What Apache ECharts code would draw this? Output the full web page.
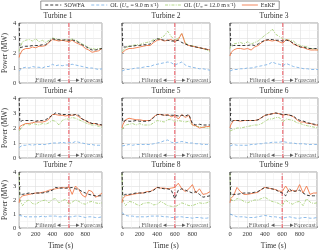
<!DOCTYPE html>
<html><head><meta charset="utf-8">
<script src="https://cdn.jsdelivr.net/npm/echarts@6/dist/echarts.min.js"></script>
<style>html,body{margin:0;padding:0;background:#fff}#c{width:320px;height:251px}</style>
</head><body><div id="c"></div>
<script>
const times = [0,8,40,80,120,160,200,240,280,320,360,400,440,480,520,560,600,640,680,720,760,800,840,880,920,960,1000];
const turbineNames = ['Turbine 1','Turbine 2','Turbine 3','Turbine 4','Turbine 5','Turbine 6','Turbine 7','Turbine 8','Turbine 9'];
const xTicks = [0,200,400,600,800];
const yTicks = [0,1,2,3,4];
const splitTime = 600;
const splitSpan = [0, 4];

const sowfa = [
 [4.0,2.35,2.4,2.45,2.45,2.5,2.5,2.5,2.55,2.55,2.75,2.95,2.9,2.88,2.85,2.88,2.85,2.88,2.8,2.7,2.55,2.45,2.3,2.2,2.2,2.25,2.3],
 [4.0,2.4,2.4,2.45,2.45,2.5,2.5,2.55,2.55,2.6,2.8,2.95,2.9,2.85,2.85,2.8,2.8,2.85,2.7,2.6,2.5,2.45,2.4,2.35,2.3,2.25,2.2],
 [4.0,2.45,2.5,2.5,2.5,2.5,2.5,2.55,2.5,2.6,2.75,2.85,2.9,2.9,2.85,2.85,2.8,2.85,2.8,2.65,2.5,2.4,2.4,2.3,2.3,2.3,2.3],
 [4.0,2.4,2.5,2.5,2.5,2.5,2.45,2.5,2.5,2.55,2.7,2.85,3.0,2.95,2.9,2.9,2.9,2.85,2.9,2.85,2.6,2.5,2.4,2.3,2.3,2.25,2.2],
 [4.0,2.4,2.5,2.45,2.45,2.5,2.45,2.45,2.45,2.5,2.7,2.9,2.9,2.85,2.85,2.85,2.85,2.8,2.85,2.8,2.9,2.3,2.2,2.25,2.2,2.2,2.2],
 [4.0,2.4,2.5,2.5,2.5,2.5,2.5,2.5,2.5,2.55,2.7,2.85,2.9,2.95,3.0,2.95,2.9,2.9,2.85,2.8,2.6,2.5,2.45,2.35,2.3,2.25,2.2],
 [4.0,2.35,2.4,2.45,2.5,2.45,2.5,2.5,2.5,2.55,2.6,2.7,2.9,2.85,2.85,2.85,2.85,2.9,2.8,2.75,2.6,2.5,2.4,2.35,2.3,2.3,2.3],
 [4.0,2.3,2.4,2.4,2.45,2.5,2.5,2.5,2.55,2.6,2.7,2.9,2.85,2.8,2.8,2.7,2.1,2.7,2.8,2.7,2.6,2.5,2.6,2.4,2.2,2.25,2.3],
 [4.0,2.35,2.4,2.4,2.45,2.5,2.5,2.5,2.55,2.6,2.75,2.9,2.85,2.8,2.75,2.6,2.5,2.3,2.8,2.6,2.65,2.7,2.5,2.35,2.3,2.3,2.3]
];
const ol9 = [
 [0.8,0.7,1.0,1.05,1.0,1.1,1.05,1.05,1.0,1.1,1.1,1.25,1.15,1.2,1.15,1.2,1.2,1.25,1.2,1.15,1.1,1.05,1.0,1.0,0.95,0.9,0.95],
 [0.8,0.75,0.9,0.9,0.95,1.0,1.0,1.05,1.1,1.1,1.2,1.25,1.3,1.35,1.4,1.35,1.2,1.3,1.4,1.2,1.1,1.05,1.0,0.95,0.95,0.9,0.85],
 [0.8,0.7,0.9,0.9,0.95,0.95,1.0,1.0,1.05,1.1,1.15,1.2,1.25,1.4,1.3,1.25,1.15,1.3,1.2,1.1,1.05,1.0,0.95,0.95,0.9,0.9,0.9],
 [0.7,0.8,0.85,0.85,0.9,0.85,0.9,0.9,0.9,0.9,0.95,1.0,1.0,1.0,1.05,1.0,1.05,1.0,1.1,1.05,1.0,0.95,0.9,0.9,0.85,0.85,0.85],
 [0.8,0.75,0.85,0.9,0.85,0.9,0.9,0.9,0.9,0.9,0.95,1.0,1.05,1.15,1.2,1.05,1.0,1.05,1.1,1.05,1.0,1.0,0.95,0.95,0.9,0.9,0.9],
 [0.8,0.75,0.9,0.85,0.85,0.85,0.85,0.9,0.9,0.95,0.95,1.0,1.0,1.05,1.05,1.05,1.1,1.05,1.0,1.0,0.95,0.95,0.95,0.9,0.9,0.9,0.9],
 [0.9,0.95,0.85,0.8,0.8,0.8,0.8,0.8,0.85,0.8,0.85,0.85,0.85,0.8,0.8,0.85,0.8,0.8,0.85,0.85,0.8,0.75,0.8,0.8,0.75,0.75,0.8],
 [1.1,1.05,0.9,0.85,0.85,0.8,0.8,0.8,0.8,0.85,0.85,0.85,0.85,0.8,0.8,0.75,0.75,0.8,0.8,0.75,0.75,0.7,0.75,0.75,0.7,0.7,0.75],
 [1.0,1.0,0.9,0.8,0.8,0.8,0.75,0.75,0.75,0.8,0.85,0.9,0.85,0.8,0.8,0.75,0.7,0.75,0.8,0.75,0.7,0.7,0.75,0.75,0.7,0.7,0.75]
];
const ol12 = [
 [2.1,2.3,2.75,2.85,2.9,2.8,2.95,2.75,2.85,2.7,2.85,3.0,2.95,2.9,2.85,2.9,2.8,2.95,2.85,2.75,2.6,2.5,2.35,2.3,2.25,2.3,2.3],
 [2.1,2.2,2.35,2.45,2.5,2.55,2.55,2.65,2.7,2.75,2.9,2.9,3.0,3.15,3.45,3.1,2.85,3.0,3.3,2.7,2.5,2.5,2.4,2.35,2.3,2.2,2.1],
 [2.3,2.45,2.6,2.65,2.7,2.6,2.75,2.6,2.7,2.8,3.0,3.2,3.35,3.6,3.25,3.1,2.95,2.9,2.85,2.8,2.6,2.5,2.45,2.4,2.3,2.25,2.2],
 [1.8,1.9,2.1,2.3,2.2,2.3,2.25,2.2,2.3,2.25,2.35,2.5,2.45,2.2,2.5,2.6,2.6,2.7,2.65,2.55,2.45,2.35,2.25,2.2,2.2,2.1,2.05],
 [1.9,2.0,2.2,2.25,2.3,2.2,2.3,2.2,2.2,2.2,2.35,2.5,2.45,2.4,2.55,2.6,2.4,2.5,2.45,2.4,2.45,2.2,2.1,2.1,2.05,2.0,2.0],
 [1.8,1.9,1.9,2.0,2.0,2.05,2.1,2.15,2.2,2.2,2.3,2.45,2.6,2.6,2.7,2.7,2.4,2.6,2.55,2.5,2.35,2.3,2.2,2.15,2.1,2.05,2.0],
 [3.9,2.0,1.6,1.9,2.0,1.75,1.7,1.85,1.95,2.0,1.8,2.05,2.1,1.8,1.95,2.05,1.7,1.85,2.0,1.9,1.75,1.7,1.85,1.9,1.8,1.75,1.8],
 [3.9,2.0,1.6,1.9,1.85,1.7,1.6,1.75,1.8,1.8,1.65,1.7,1.9,1.75,1.6,1.55,1.5,1.65,1.8,1.7,1.6,1.6,1.7,1.8,1.75,1.8,1.9],
 [3.9,2.1,1.9,2.1,2.05,1.9,1.8,1.9,2.0,2.0,2.1,2.2,2.05,1.9,1.85,1.75,1.6,2.0,1.8,1.7,1.85,1.9,1.6,2.1,1.85,1.75,1.8]
];
const enkf = [
 [1.7,1.9,2.2,2.3,2.3,2.4,2.35,2.45,2.45,2.5,2.7,2.9,2.85,2.8,2.85,2.8,2.75,2.85,2.7,2.6,2.5,2.3,2.2,2.05,2.1,2.15,2.3],
 [2.0,2.1,2.2,2.3,2.3,2.35,2.4,2.45,2.5,2.5,2.7,2.85,2.9,2.8,2.85,2.9,2.75,2.9,3.3,2.6,2.5,2.45,2.4,2.35,2.3,2.25,2.2],
 [1.8,2.0,2.2,2.3,2.3,2.25,2.3,2.2,2.4,2.5,2.7,2.85,2.85,2.8,2.85,2.75,2.65,2.9,2.8,2.6,2.5,2.4,2.35,2.25,2.2,2.2,2.2],
 [1.9,2.1,2.2,2.3,2.3,2.35,2.4,2.4,2.4,2.45,2.6,2.9,2.9,2.85,2.85,2.8,2.85,2.85,2.9,2.75,2.6,2.5,2.35,2.3,2.3,2.2,2.2],
 [2.0,2.2,2.55,2.65,2.6,2.55,2.55,2.5,2.5,2.5,2.75,2.9,2.9,2.85,2.9,2.75,2.85,2.6,2.9,2.7,2.85,2.2,2.15,2.0,2.05,2.1,2.1],
 [2.0,2.2,2.5,2.5,2.45,2.5,2.5,2.5,2.5,2.55,2.7,2.85,2.9,2.95,3.0,2.95,2.85,2.9,2.85,2.75,2.55,2.4,2.4,2.3,2.3,2.2,2.2],
 [1.8,2.1,2.3,2.35,2.4,2.45,2.5,2.5,2.55,2.6,2.7,2.75,2.8,2.85,2.9,2.85,2.95,2.4,3.0,2.75,2.35,2.2,2.7,2.6,2.2,2.3,2.5],
 [1.8,2.1,2.3,2.35,2.4,2.45,2.5,2.5,2.6,2.6,2.75,2.9,2.85,2.85,2.8,2.85,2.9,3.2,2.8,2.6,2.8,3.1,2.5,2.8,2.4,2.45,2.6],
 [1.8,2.1,2.3,2.9,2.6,2.4,2.4,2.45,2.5,2.55,2.75,2.9,2.85,2.8,2.75,2.65,2.6,3.0,2.6,2.7,2.6,3.1,2.5,3.0,2.4,2.5,2.5]
];

const FONT = 'Liberation Serif';
const lefts = [14, 122, 230];
const tops = [23, 98, 172];
const W = 88, H = 60;
const pair = arr => times.map((t, i) => [t, arr[i]]);

const grids = [], xAxes = [], yAxes = [], titles = [], series = [];
for (let k = 0; k < 9; k++) {
  const r = Math.floor(k / 3), c = k % 3;
  grids.push({left: lefts[c], top: tops[r], width: W, height: H, show: true,
    borderColor: '#8c8c8c', borderWidth: 0.8, backgroundColor: '#fff'});
  titles.push({text: turbineNames[k], left: lefts[c] + W / 2, top: tops[r] - 11, textAlign: 'center', padding: 0,
    textStyle: {fontFamily: FONT, fontSize: 7.5, fontWeight: 'normal', color: '#333'}});
  xAxes.push({type: 'value', gridIndex: k, min: 0, max: 1000, interval: 200,
    name: r === 2 ? 'Time (s)' : '', nameLocation: 'middle', nameGap: 14,
    nameTextStyle: {fontFamily: FONT, fontSize: 7.5, color: '#333'},
    axisLine: {show: false},
    axisTick: {show: true, inside: true, length: 2, lineStyle: {color: '#777', width: 0.6}},
    axisLabel: {show: r === 2, fontFamily: FONT, fontSize: 6.5, color: '#333', margin: 3,
      formatter: v => xTicks.includes(v) ? String(v) : ''},
    splitLine: {show: true, lineStyle: {color: '#dedede', width: 0.6}},
    minorTick: {show: false, splitNumber: 2},
    minorSplitLine: {show: true, lineStyle: {color: '#efefef', width: 0.5}}});
  yAxes.push({type: 'value', gridIndex: k, min: 0, max: 4, interval: 1,
    name: c === 0 ? 'Power (MW)' : '', nameLocation: 'middle', nameGap: 8,
    nameTextStyle: {fontFamily: FONT, fontSize: 7.5, color: '#333'},
    axisLine: {show: false},
    axisTick: {show: true, inside: true, length: 2, lineStyle: {color: '#777', width: 0.6}},
    axisLabel: {show: c === 0, fontFamily: FONT, fontSize: 6.5, color: '#333', margin: 3,
      formatter: v => yTicks.includes(v) ? String(v) : ''},
    splitLine: {show: true, lineStyle: {color: '#dedede', width: 0.6}},
    minorTick: {show: false, splitNumber: 2},
    minorSplitLine: {show: true, lineStyle: {color: '#efefef', width: 0.5}}});
  const base = {type: 'line', xAxisIndex: k, yAxisIndex: k, symbol: 'none', showSymbol: false, animation: false, silent: true};
  series.push(Object.assign({}, base, {name: 'split', data: splitSpan.map(v => [splitTime, v]), z: 1,
    lineStyle: {color: '#ec6a72', width: 1.2, type: [4, 1.5, 1, 1.5]}}));
  series.push(Object.assign({}, base, {name: 'OL9', data: pair(ol9[k]), z: 2,
    lineStyle: {color: '#7fb3e6', width: 0.9, type: [3, 2]}, itemStyle: {color: '#7fb3e6'}}));
  series.push(Object.assign({}, base, {name: 'OL12', data: pair(ol12[k]), z: 3,
    lineStyle: {color: '#a9d17a', width: 0.9, type: [3, 1.2, 1, 1.2]}, itemStyle: {color: '#a9d17a'}}));
  series.push(Object.assign({}, base, {name: 'EnKF', data: pair(enkf[k]), z: 4,
    lineStyle: {color: '#f0794a', width: 0.9}, itemStyle: {color: '#f0794a'}}));
  series.push(Object.assign({}, base, {name: 'SOWFA', data: pair(sowfa[k]), z: 5,
    lineStyle: {color: '#222', width: 0.9, type: [3, 2]}, itemStyle: {color: '#222'}}));
  series.push({type: 'scatter', xAxisIndex: k, yAxisIndex: k, symbolSize: 0, silent: true, animation: false, z: 6,
    data: [{value: [splitTime, 0.16], label: {position: 'left', formatter: 'Filtered ◂—'}},
           {value: [splitTime, 0.16], label: {position: 'right', formatter: '—▸Forecast'}}],
    label: {show: true, distance: 1, fontFamily: FONT, fontSize: 6.5, color: '#333'}});
}

const chart = echarts.init(document.getElementById('c'), null, {renderer: 'canvas'});
chart.setOption({
  animation: false,
  backgroundColor: '#fff',
  title: titles,
  legend: {
    top: 1, left: 'center', padding: [1, 4], itemGap: 6, itemWidth: 16, itemHeight: 6,
    borderColor: '#777', borderWidth: 0.8, backgroundColor: '#fff',
    itemStyle: {opacity: 0},
    lineStyle: {width: 0.9},
    data: ['SOWFA', 'OL9', 'OL12', 'EnKF'],
    formatter: n => ({SOWFA: 'SOWFA', OL9: 'OL ({i|U}{s|∞} = 9.0 m s⁻¹)', OL12: 'OL ({i|U}{s|∞} = 12.0 m s⁻¹)', EnKF: 'EnKF'})[n],
    textStyle: {fontFamily: FONT, fontSize: 6, color: '#333', padding: [0, 0, 0, -2],
      rich: {i: {fontFamily: FONT, fontSize: 6, fontStyle: 'italic'}, s: {fontFamily: FONT, fontSize: 4, verticalAlign: 'bottom', padding: [3, 0, 0, 0]}}}
  },
  grid: grids, xAxis: xAxes, yAxis: yAxes, series: series
});
</script></body></html>
